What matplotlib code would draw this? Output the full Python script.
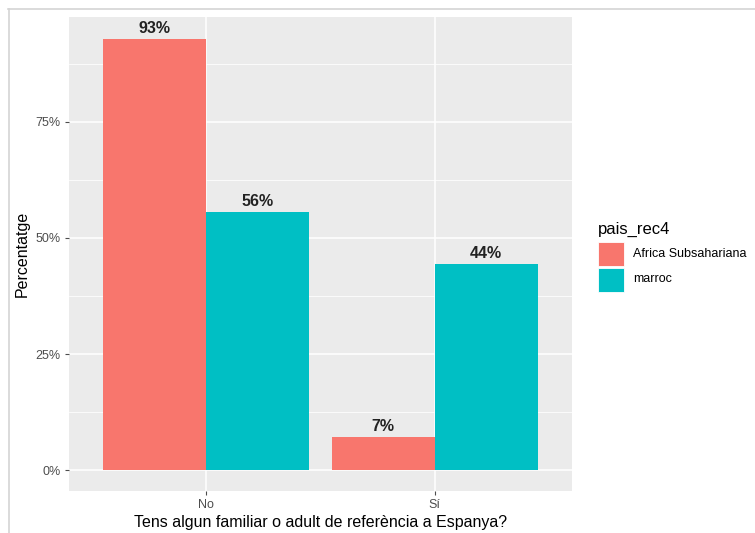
"""Grouped bar chart in ggplot2 style: family/adult of reference in Spain."""

import matplotlib
import matplotlib.pyplot as plt
import numpy as np
from matplotlib.lines import Line2D
from matplotlib.patches import Rectangle

matplotlib.use("Agg")

categories = ["No", "Sí"]
groups = ["Africa Subsahariana", "marroc"]
values = {
    "Africa Subsahariana": [0.929, 0.071],
    "marroc": [0.556, 0.444],
}
labels = {
    "Africa Subsahariana": ["93%", "7%"],
    "marroc": ["56%", "44%"],
}
colors = {"Africa Subsahariana": "#F8766D", "marroc": "#00BFC4"}

yticks = [0, 0.25, 0.5, 0.75]
yticklabels = ["0%", "25%", "50%", "75%"]

W, H = 755, 533
plt.rcParams["font.family"] = ["Liberation Sans", "DejaVu Sans"]

fig = plt.figure(figsize=(W / 100, H / 100), dpi=100)
ax = fig.add_axes([69 / W, 1 - 491 / H, 503 / W, 474 / H])

ax.set_facecolor("#EBEBEB")
x = np.arange(1, len(categories) + 1)
width = 0.45
for i, g in enumerate(groups):
    pos = x + (i - 0.5) * width
    ax.bar(pos, values[g], width=width, color=colors[g], zorder=3)
    for px, v, lab in zip(pos, values[g], labels[g]):
        ax.text(px, v + 0.007, lab, ha="center", va="bottom",
                fontsize=11.5, fontweight="bold", color="#222222", zorder=4)

ax.set_xlim(0.4, 2.6)
ax.set_ylim(-0.045, 0.976)
ax.set_xticks(x)
ax.set_xticklabels(categories)
ax.set_yticks(yticks)
ax.set_yticklabels(yticklabels)
ax.set_yticks([0.125, 0.375, 0.625, 0.875], minor=True)
ax.grid(True, which="major", color="white", linewidth=1.1, zorder=0)
ax.grid(True, which="minor", axis="y", color="white", linewidth=0.55, zorder=0)
ax.set_axisbelow(True)
for s in ax.spines.values():
    s.set_visible(False)
ax.tick_params(which="major", length=3, color="#4d4d4d", labelcolor="#4d4d4d",
               labelsize=9, pad=3)
ax.tick_params(which="minor", length=0)

ax.set_xlabel("Tens algun familiar o adult de referència a Espanya?",
              fontsize=11.5, color="black", labelpad=3)
ax.set_ylabel("Percentatge", fontsize=11.5, color="black", labelpad=4)

# legend, laid out by hand in pixel positions like ggplot's guide
fig.text(598 / W, 1 - 234 / H, "pais_rec4", fontsize=12, ha="left",
         va="baseline")
key_top, key_h, key_gap = 242, 24, 1.5
for i, g in enumerate(groups):
    top = key_top + i * (key_h + key_gap)
    fig.add_artist(Rectangle((598 / W, 1 - (top + key_h) / H), 26 / W,
                             key_h / H, transform=fig.transFigure,
                             facecolor=colors[g], edgecolor="white",
                             linewidth=0.6))
    fig.text(633 / W, 1 - (top + key_h / 2) / H, g, fontsize=9,
             ha="left", va="center")

# screenshot frame lines (top and left)
fig.add_artist(Line2D([8 / W, 1], [1 - 8.5 / H, 1 - 8.5 / H],
                      color="#d4d4d4", linewidth=1.2))
fig.add_artist(Line2D([8.5 / W, 8.5 / W], [0, 1 - 8.5 / H],
                      color="#d4d4d4", linewidth=1.2))

fig.savefig("out.png", dpi=100)
plt.close(fig)
